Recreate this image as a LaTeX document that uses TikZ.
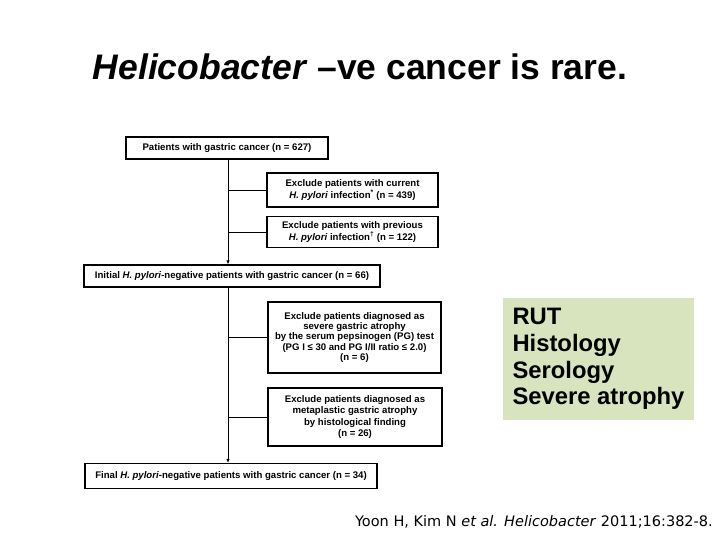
\documentclass[tikz,border=0pt]{standalone}
\usepackage{fontspec}
\setmainfont{Liberation Sans}
\newfontfamily\citefont{DejaVu Sans}
\usetikzlibrary{arrows.meta}
\definecolor{greenbox}{HTML}{D7E4BD}
\begin{document}
\begin{tikzpicture}[x=1pt,y=-1pt,
  fbox/.style={draw,line width=1.3pt,inner sep=0pt,align=center,
    font=\fontsize{9.6}{11.2}\selectfont\bfseries},
  link/.style={line width=0.8pt},
  arr/.style={link,-{Latex[length=4pt,width=3.5pt]}}]
\useasboundingbox (0,0) rectangle (720,540);
\node[anchor=base] (title) at (360,80) {\fontsize{35.5}{40}\selectfont\bfseries\itshape Helicobacter\/ \upshape –ve cancer is rare.};

\node[fbox,minimum width=202pt,minimum height=22pt] (b1) at (227,148) {Patients with gastric cancer (n = 627)};
\node[fbox,minimum width=171pt,minimum height=34pt] (b2) at (352.5,190) {Exclude patients with current\\\textit{H. pylori} infection\textsuperscript{*} (n = 439)};
\node[fbox,minimum width=171pt,minimum height=31pt] (b3) at (352.5,232) {Exclude patients with previous\\\textit{H. pylori} infection\textsuperscript{\dag} (n = 122)};
\node[fbox,minimum width=296pt,minimum height=22pt] (b4) at (232,276) {Initial \textit{H. pylori}-negative patients with gastric cancer (n = 66)};
\node[fbox,minimum width=173pt,minimum height=71pt,font=\fontsize{9.6}{10.4}\selectfont\bfseries] (b5) at (354.5,337.5) {Exclude patients diagnosed as\\severe gastric atrophy\\by the serum pepsinogen (PG) test\\(PG I ≤ 30 and PG I/II ratio ≤ 2.0)\\(n = 6)};
\node[fbox,minimum width=174pt,minimum height=58pt] (b6) at (355,417) {Exclude patients diagnosed as\\metaplastic gastric atrophy\\by histological finding\\(n = 26)};
\node[fbox,minimum width=292pt,minimum height=25pt] (b7) at (231,476) {Final \textit{H. pylori}-negative patients with gastric cancer (n = 34)};

\coordinate (t) at (228,0);
\draw[arr] (b1.south -| t) -- (b4.north -| t);
\draw[arr] (b4.south -| t) -- (b7.north -| t);
\draw[link] (b2.west -| t) -- (b2.west);
\draw[link] (b3.west -| t) -- (b3.west);
\draw[link] (b5.west -| t) -- (b5.west);
\draw[link] (b6.west -| t) -- (b6.west);

\node[fill=greenbox,minimum width=191pt,minimum height=122pt,inner sep=0pt,align=left,
  font=\fontsize{23.8}{26.6}\selectfont\bfseries] (list) at (598.5,359) {RUT\\Histology\\Serology\\Severe atrophy};

\node[anchor=east,inner sep=0pt,font=\citefont\fontsize{14.5}{17}\selectfont] (cite) at (713,522)
  {Yoon H, Kim N \textit{et al. Helicobacter} 2011;16:382-8.};
\end{tikzpicture}
\end{document}
